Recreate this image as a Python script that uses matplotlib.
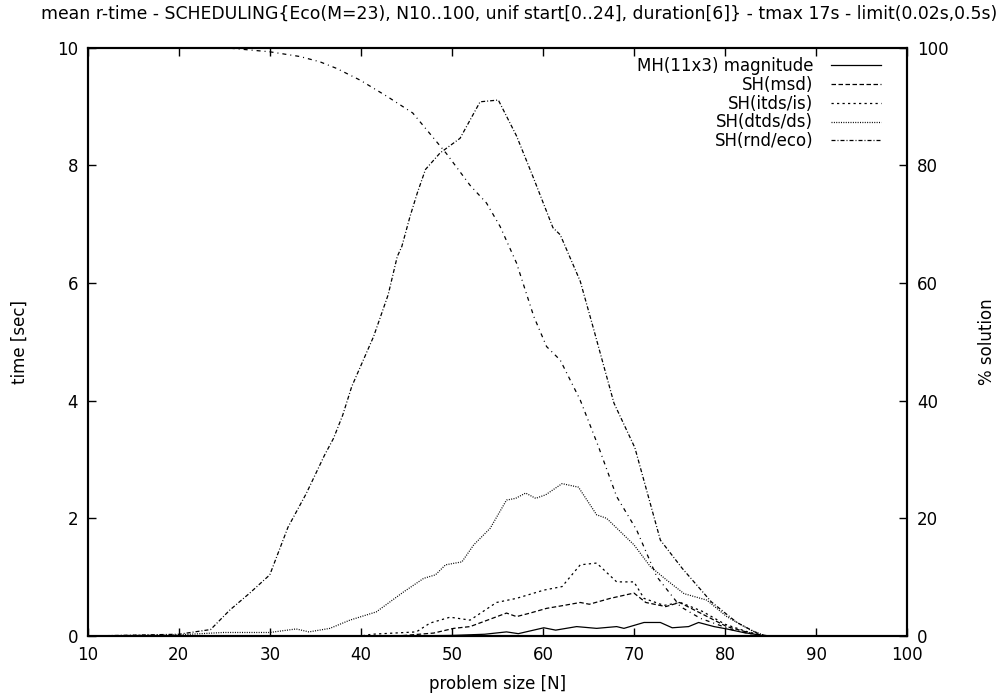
import matplotlib
matplotlib.use('Agg')
import matplotlib.pyplot as plt

plt.rcParams['font.family'] = ['DejaVu Sans']
plt.rcParams['font.size'] = 12

# tempo medio (s) por tamanho do problema
n_mh = [10, 45, 50, 53.6, 56, 57.3, 60.1, 61.4, 63.7, 65.9, 68.1, 68.9, 71.1, 72.9, 74.2, 76, 77.1, 78.8, 80.2, 82, 84.5, 100]
t_mh = [0, 0, 0.01, 0.03, 0.07, 0.04, 0.14, 0.1, 0.16, 0.13, 0.16, 0.13, 0.23, 0.23, 0.14, 0.16, 0.23, 0.16, 0.12, 0.06, 0, 0]

n_msd = [10, 44, 48, 50.2, 52, 56, 57.1, 58.6, 60.4, 62.3, 64.1, 65.1, 67.4, 70, 71.3, 73.5, 75, 77.3, 80.2, 82.8, 84.5, 100]
t_msd = [0, 0, 0.05, 0.13, 0.16, 0.39, 0.33, 0.39, 0.47, 0.52, 0.57, 0.54, 0.64, 0.73, 0.57, 0.5, 0.57, 0.39, 0.16, 0.05, 0, 0]

n_itds = [10, 40, 41.2, 46.1, 47.6, 49.8, 52, 54.9, 57.1, 60.1, 62.1, 64.1, 65.9, 68.1, 70, 71.1, 73.3, 75.1, 77.5, 80, 82.5, 84.5, 100]
t_itds = [0, 0, 0.03, 0.07, 0.22, 0.32, 0.27, 0.57, 0.64, 0.78, 0.84, 1.21, 1.24, 0.92, 0.92, 0.64, 0.52, 0.57, 0.42, 0.2, 0.07, 0, 0]

n_dtds = [10, 20, 24.9, 30, 32.9, 34.3, 36.6, 38.8, 41.7, 44.7, 46.9, 48.2, 49.3, 51.1, 52.4, 54.2, 56, 57, 58.1, 59.2, 60.3,
          62.1, 63.9, 65.9, 67, 70, 71.8, 73.6, 75.5, 78, 80.2, 82.8, 84.5, 100]
t_dtds = [0, 0.02, 0.06, 0.06, 0.12, 0.07, 0.13, 0.27, 0.41, 0.75, 0.98, 1.04, 1.21, 1.26, 1.55, 1.83, 2.31, 2.34, 2.43, 2.34, 2.4,
          2.59, 2.53, 2.06, 2.0, 1.55, 1.18, 0.95, 0.72, 0.61, 0.33, 0.1, 0, 0]

n_rnd = [10, 20, 23.5, 24.2, 25.6, 27.8, 30, 32, 34, 36, 37, 38, 39, 41.4, 43, 44, 44.5, 45.4, 46.2, 47.1, 48.7, 50.9,
         53.1, 55.1, 57.1, 58.9, 61.1, 61.9, 64.1, 65.6, 67.8, 70.1, 72.9, 75.3, 78.5, 81.3, 83.9, 85, 100]
t_rnd = [0, 0.03, 0.11, 0.22, 0.44, 0.73, 1.04, 1.85, 2.42, 3.07, 3.36, 3.75, 4.24, 5.09, 5.8, 6.45, 6.62, 7.13, 7.53, 7.93, 8.21, 8.46,
         9.08, 9.11, 8.5, 7.81, 6.94, 6.82, 6.03, 5.2, 3.96, 3.2, 1.63, 1.15, 0.58, 0.23, 0.02, 0, 0]

# % de solucoes encontradas (eixo da direita)
n_sol = [10, 25, 30, 33.3, 35.5, 37.3, 39.9, 42.9, 45.7, 49.4, 52, 53.8, 55.3, 57.1, 59, 60.4, 61.9, 64.1, 66.1, 68.1,
         70.3, 72.5, 75.1, 77.3, 80.9, 83.9, 100]
p_sol = [100, 100, 99.3, 98.5, 97.6, 96.5, 94.5, 91.7, 88.9, 82, 76.6, 73.6, 69.6, 63.4, 54.3, 49.2, 46.9, 40.1, 32.2, 23.7,
         18, 10.1, 5, 3, 1, 0, 0]

fig = plt.figure(figsize=(9.99, 6.97), dpi=100)
ax = fig.add_axes([0.0878, 0.0875, 0.8202, 0.8441])
ax2 = ax.twinx()

lw = 0.9
ax.plot(n_mh, t_mh, color='black', lw=lw, label='MH(11x3) magnitude')
ax.plot(n_msd, t_msd, color='black', lw=lw, dashes=(3.6, 2.0), label='SH(msd)')
ax.plot(n_itds, t_itds, color='black', lw=lw, dashes=(1.8, 2.6), label='SH(itds/is)')
ax.plot(n_dtds, t_dtds, color='black', lw=lw, dashes=(0.8, 1.1), label='SH(dtds/ds)')
ax.plot(n_rnd, t_rnd, color='black', lw=lw, dashes=(3.2, 1.6, 0.8, 1.6), label='SH(rnd/eco)')
ax2.plot(n_sol, p_sol, color='black', lw=lw, dashes=(3.2, 3.2, 0.8, 3.2))

ax.set_xlim(10, 100)
ax.set_ylim(0, 10)
ax2.set_ylim(0, 100)
ax.set_xticks(range(10, 101, 10))
ax.set_yticks(range(0, 11, 2))
ax2.set_yticks(range(0, 101, 20))

ax.tick_params(direction='in', length=6, width=1, top=True, right=False, pad=7)
ax2.tick_params(direction='in', length=6, width=1, pad=7)
for a in (ax, ax2):
    for s in a.spines.values():
        s.set_linewidth(1.5)

ax.set_xlabel('problem size [N]', labelpad=8)
ax.set_ylabel('time [sec]', labelpad=20)
ax2.set_ylabel('% solution', labelpad=21)
fig.text(0.5195, 0.98, 'mean r-time - SCHEDULING{Eco(M=23), N10..100, unif start[0..24], duration[6]} - tmax 17s - limit(0.02s,0.5s)',
         fontsize=12.4, ha='center', va='center')

leg = ax.legend(loc='upper right', bbox_to_anchor=(0.983, 1.004), frameon=False, markerfirst=False,
                handlelength=3.0, handletextpad=1.1, labelspacing=0.05, borderpad=0.2)
leg._legend_box._children[-1]._children[0].align = 'right'

plt.savefig('out.png', dpi=100)
